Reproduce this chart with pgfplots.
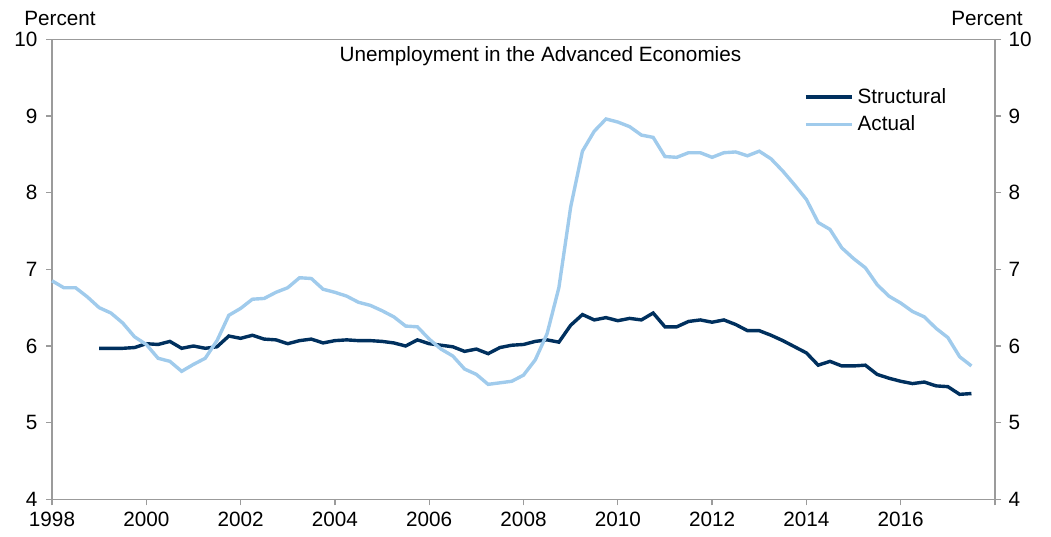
\documentclass[border=0pt]{standalone}
\usepackage{pgfplots}
\pgfplotsset{compat=1.18}
\usepackage{fontspec}
\setmainfont{Liberation Sans}
\definecolor{struct}{RGB}{0,48,94}
\definecolor{actual}{RGB}{160,203,236}
\definecolor{axgray}{RGB}{155,155,155}
\newcommand{\fs}{\fontsize{20.7}{24}\selectfont}
\begin{document}
\begin{tikzpicture}[font=\fs]
\pgfplotsset{common/.style={
  width=943pt, height=460.2pt, scale only axis,
  xmin=1998, xmax=2018, ymin=4, ymax=10,
  ytick={4,5,...,10},
  tick align=outside, major tick length=6pt,
  axis line style={axgray, line width=1.3pt},
  tick style={axgray, line width=1.3pt},
  /pgf/number format/assume math mode=true,
  ticklabel style={font=\fs},
}}
\begin{axis}[common, at={(0,0)}, anchor=south west,
  xtick={1998,2000,...,2018},
  xticklabels={1998,2000,2002,2004,2006,2008,2010,2012,2014,2016,},
  xtick pos=bottom, ytick pos=left, clip=false,
  x tick label style={yshift=-3.5pt},
  y tick label style={xshift=-5pt},
  legend style={at={(rel axis cs:0.7975,0.8913)}, anchor=north west,
    draw=none, fill=none, inner sep=0pt, row sep=12.3pt, column sep=4pt,
    font=\fs, nodes={inner sep=0pt, text height=14pt, text depth=1pt}},
  legend cell align=left,
  legend image code/.code={\draw[#1] (0pt,0pt) -- (46pt,0pt);},
]
\addplot[struct, line width=3.4pt] coordinates {
(1999.00,5.97) (1999.25,5.97) (1999.50,5.97) (1999.75,5.98)
(2000.00,6.03) (2000.25,6.02) (2000.50,6.06) (2000.75,5.97)
(2001.00,6.00) (2001.25,5.97) (2001.50,5.99) (2001.75,6.13)
(2002.00,6.10) (2002.25,6.14) (2002.50,6.09) (2002.75,6.08)
(2003.00,6.03) (2003.25,6.07) (2003.50,6.09) (2003.75,6.04)
(2004.00,6.07) (2004.25,6.08) (2004.50,6.07) (2004.75,6.07)
(2005.00,6.06) (2005.25,6.04) (2005.50,6.00) (2005.75,6.08)
(2006.00,6.03) (2006.25,6.01) (2006.50,5.99) (2006.75,5.93)
(2007.00,5.96) (2007.25,5.90) (2007.50,5.98) (2007.75,6.01)
(2008.00,6.02) (2008.25,6.06) (2008.50,6.08) (2008.75,6.05)
(2009.00,6.27) (2009.25,6.41) (2009.50,6.34) (2009.75,6.37)
(2010.00,6.33) (2010.25,6.36) (2010.50,6.34) (2010.75,6.43)
(2011.00,6.25) (2011.25,6.25) (2011.50,6.32) (2011.75,6.34)
(2012.00,6.31) (2012.25,6.34) (2012.50,6.28) (2012.75,6.20)
(2013.00,6.20) (2013.25,6.14) (2013.50,6.07) (2013.75,5.99)
(2014.00,5.91) (2014.25,5.75) (2014.50,5.80) (2014.75,5.74)
(2015.00,5.74) (2015.25,5.75) (2015.50,5.63) (2015.75,5.58)
(2016.00,5.54) (2016.25,5.51) (2016.50,5.53) (2016.75,5.48)
(2017.00,5.47) (2017.25,5.37) (2017.50,5.38)
};
\addlegendentry{Structural}
\addplot[actual, line width=3.4pt] coordinates {
(1998.00,6.85) (1998.25,6.76) (1998.50,6.76) (1998.75,6.64)
(1999.00,6.50) (1999.25,6.43) (1999.50,6.30) (1999.75,6.12)
(2000.00,6.02) (2000.25,5.84) (2000.50,5.80) (2000.75,5.67)
(2001.00,5.76) (2001.25,5.84) (2001.50,6.07) (2001.75,6.40)
(2002.00,6.49) (2002.25,6.61) (2002.50,6.62) (2002.75,6.70)
(2003.00,6.76) (2003.25,6.89) (2003.50,6.88) (2003.75,6.74)
(2004.00,6.70) (2004.25,6.65) (2004.50,6.57) (2004.75,6.53)
(2005.00,6.46) (2005.25,6.38) (2005.50,6.26) (2005.75,6.25)
(2006.00,6.09) (2006.25,5.96) (2006.50,5.87) (2006.75,5.70)
(2007.00,5.63) (2007.25,5.50) (2007.50,5.52) (2007.75,5.54)
(2008.00,5.62) (2008.25,5.82) (2008.50,6.16) (2008.75,6.76)
(2009.00,7.81) (2009.25,8.54) (2009.50,8.80) (2009.75,8.96)
(2010.00,8.92) (2010.25,8.86) (2010.50,8.75) (2010.75,8.72)
(2011.00,8.47) (2011.25,8.46) (2011.50,8.52) (2011.75,8.52)
(2012.00,8.46) (2012.25,8.52) (2012.50,8.53) (2012.75,8.48)
(2013.00,8.54) (2013.25,8.44) (2013.50,8.28) (2013.75,8.10)
(2014.00,7.91) (2014.25,7.61) (2014.50,7.52) (2014.75,7.28)
(2015.00,7.14) (2015.25,7.02) (2015.50,6.80) (2015.75,6.65)
(2016.00,6.56) (2016.25,6.45) (2016.50,6.38) (2016.75,6.23)
(2017.00,6.11) (2017.25,5.86) (2017.50,5.74)
};
\addlegendentry{Actual}
\node[anchor=base] at (rel axis cs:0.518,0.9526) {Unemployment in the Advanced Economies};
\node[anchor=base, xshift=8pt, yshift=13.2pt] at (rel axis cs:0,1) {Percent};
\node[anchor=base, xshift=-8pt, yshift=13.2pt] at (rel axis cs:1,1) {Percent};
\end{axis}
\begin{axis}[common, at={(0,0)}, anchor=south west,
  hide x axis, axis y line*=right, ytick pos=right,
  y tick label style={xshift=4pt},
]
\addplot[draw=none] coordinates {(2000,5)};
\end{axis}
\path (-52pt,-36.6pt) rectangle ++(1051pt,536pt);
\end{tikzpicture}
\end{document}
